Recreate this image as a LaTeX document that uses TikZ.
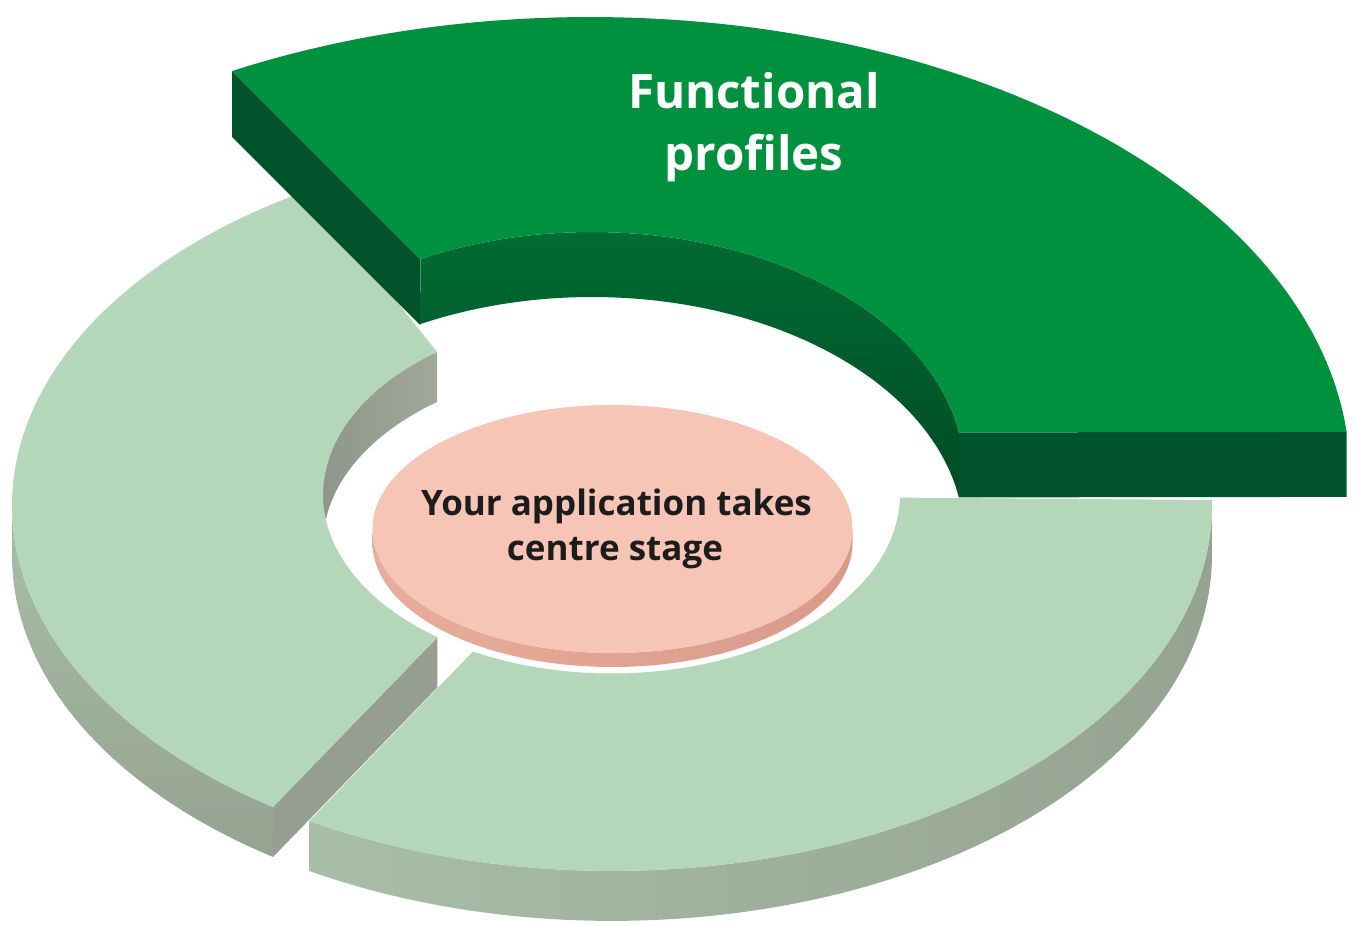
\documentclass[tikz,border=0pt]{standalone}
\usepackage{fontspec}
\setsansfont{Open Sans}
\definecolor{ltop}{HTML}{B4D7BA}
\definecolor{lsideA}{HTML}{A8BEA8}
\definecolor{lsideB}{HTML}{95A391}
\definecolor{lcut}{HTML}{969E90}
\definecolor{linA}{HTML}{A0A899}
\definecolor{linB}{HTML}{8F978A}
\definecolor{dtop}{HTML}{00913F}
\definecolor{dend}{HTML}{00532A}
\definecolor{dinA}{HTML}{006C33}
\definecolor{dinB}{HTML}{004B24}
\definecolor{ptop}{HTML}{F7C5B6}
\definecolor{primA}{HTML}{E8AD9C}
\definecolor{primB}{HTML}{D99A8A}
\definecolor{txt}{HTML}{1C1C1C}
\pgfmathdeclarefunction{lox}{1}{\pgfmathparse{612+600*cos(#1)}}
\pgfmathdeclarefunction{loy}{1}{\pgfmathparse{505.4-365.5*sin(#1)}}
\pgfmathdeclarefunction{lix}{1}{\pgfmathparse{611.5+288.5*cos(#1)}}
\pgfmathdeclarefunction{liy}{1}{\pgfmathparse{494.5-179*sin(#1)}}
\pgfmathdeclarefunction{dox}{1}{\pgfmathparse{590+760*cos(#1)}}
\pgfmathdeclarefunction{doy}{1}{\pgfmathparse{475-458*sin(#1)}}
\pgfmathdeclarefunction{dix}{1}{\pgfmathparse{592+372*cos(#1)}}
\pgfmathdeclarefunction{diy}{1}{\pgfmathparse{472-240*sin(#1)}}
\pgfmathdeclarefunction{pkx}{1}{\pgfmathparse{612.5+240*cos(#1)}}
\pgfmathdeclarefunction{pky}{1}{\pgfmathparse{529-124*sin(#1)}}
\tikzset{
  dom/.style 2 args={domain=#1:#2,samples=90,variable=\t},
  bigtext/.style={font=\sffamily\bfseries\fontsize{47.5}{62}\selectfont,text=white,anchor=base,inner sep=0pt},
  midtext/.style={font=\sffamily\bfseries\fontsize{35}{45}\selectfont,text=txt,anchor=base,inner sep=0pt}
}
\begin{document}
\begin{tikzpicture}[x=1pt,y=-1pt]
\useasboundingbox (0,0) rectangle (1357,924);
\fill[white] (0,0) rectangle (1357,924);

% ---------- light left segment ----------
\shade[top color=lsideA,bottom color=lsideB]
  plot[dom={180}{235.6}] ({lox(\t)},{loy(\t)}) -- plot[dom={235.6}{180}] ({lox(\t)},{loy(\t)+50}) -- cycle;
\shade[left color=linB,right color=linA]
  plot[dom={127.2}{180}] ({lix(\t)},{liy(\t)}) -- plot[dom={180}{127.2}] ({lix(\t)},{liy(\t)+50}) -- cycle;
\fill[lcut] ({lox(235.6)},{loy(235.6)}) -- ({lix(232.9)},{liy(232.9)}) -- ({lix(232.9)},{liy(232.9)+50}) -- ({lox(235.6)},{loy(235.6)+50}) -- cycle;
\fill[ltop]
  plot[dom={120.5}{235.6}] ({lox(\t)},{loy(\t)}) -- plot[dom={232.9}{127.2}] ({lix(\t)},{liy(\t)}) -- cycle;

% ---------- light bottom-right segment ----------
\shade[left color=lsideA,right color=lsideB]
  plot[dom={239.7}{360.85}] ({lox(\t)},{loy(\t)}) -- plot[dom={360.85}{239.7}] ({lox(\t)},{loy(\t)+50}) -- cycle;
\fill[ltop]
  plot[dom={239.7}{360.85}] ({lox(\t)},{loy(\t)}) -- plot[dom={359}{241.3}] ({lix(\t)},{liy(\t)}) -- cycle;

% ---------- dark raised segment ----------
\shade[top color=dinA,bottom color=dinB]
  plot[dom={9.5}{117.5}] ({dix(\t)},{diy(\t)}) -- plot[dom={117.5}{9.5}] ({dix(\t)},{diy(\t)+65}) -- cycle;
\fill[dend] ({dox(118.1)},{doy(118.1)}) -- ({dix(117.5)},{diy(117.5)}) -- ({dix(117.5)},{diy(117.5)+66}) -- ({dox(118.1)},{doy(118.1)+66}) -- cycle;
\fill[dend] ({dox(5.4)},{doy(5.4)}) -- ({dix(9.5)},{diy(9.5)}) -- ({dix(9.5)},{diy(9.5)+65}) -- ({dox(5.4)},{doy(5.4)+65}) -- cycle;
\fill[dtop]
  plot[dom={5.4}{118.1}] ({dox(\t)},{doy(\t)}) -- plot[dom={117.5}{9.5}] ({dix(\t)},{diy(\t)}) -- cycle;

% ---------- pink centre disc ----------
\shade[left color=primA,right color=primB]
  plot[dom={180}{360}] ({pkx(\t)},{pky(\t)}) -- plot[dom={360}{180}] ({pkx(\t)},{pky(\t)+14}) -- cycle;
\fill[ptop] (612.5,529) ellipse[x radius=240,y radius=124];

% ---------- texts ----------
\node[bigtext] (f1) at (754,108) {Functional};
\node[bigtext] (f2) at (754,170) {profiles};
\node[midtext] (c1) at (616.5,515) {Your application takes};
\node[midtext] (c2) at (615,560) {centre stage};
\end{tikzpicture}
\end{document}
